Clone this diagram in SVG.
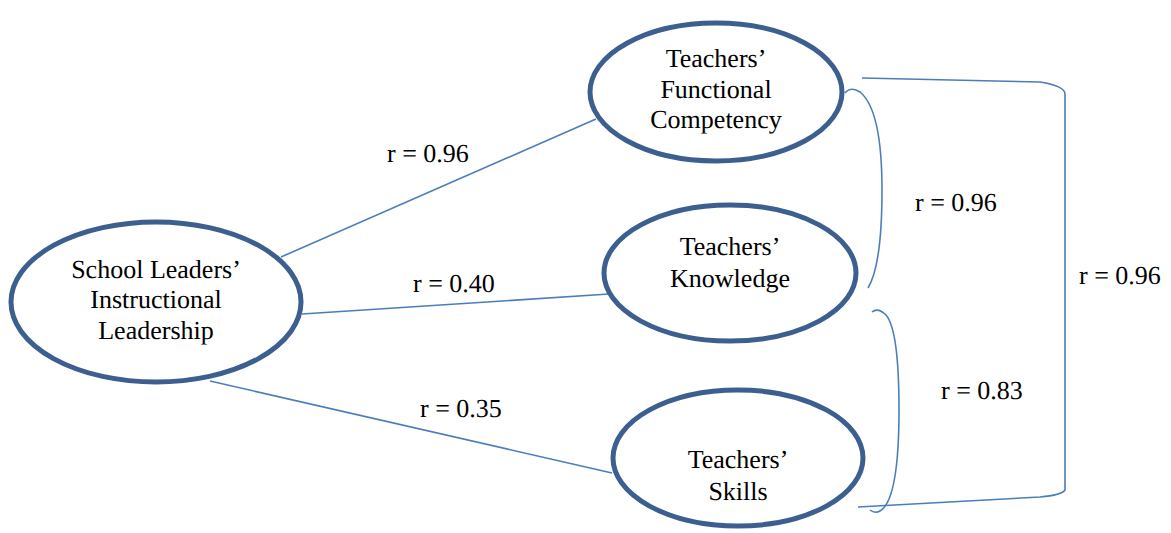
<svg xmlns="http://www.w3.org/2000/svg" width="1171" height="533" viewBox="0 0 1171 533" font-family="Liberation Serif, 'Times New Roman', serif" font-size="26">
<style>
.node{fill:#fff;stroke:#3c5f8f;stroke-width:5}
.t{fill:#000;text-anchor:middle;text-rendering:geometricPrecision}
.l{fill:#000;text-rendering:geometricPrecision}
.c{fill:none;stroke:#4a7ebb;stroke-width:1.6}
</style>
<rect width="1171" height="533" fill="#fff"/>
<g id="connectors">
<line class="c" x1="281" y1="257" x2="596" y2="119"/>
<line class="c" x1="302" y1="314" x2="609" y2="294"/>
<line class="c" x1="210" y1="381" x2="612" y2="473"/>
<path class="c" d="M862,78 L1040,82 Q1065,86 1065,94 L1065,490 Q1062,495 1040,497 L858,507"/>
<path class="c" d="M845,93 Q851,86 860,92 Q882,110 882,190 Q882,265 868,288"/>
<path class="c" d="M872,312 Q878,307 886,315 Q899,330 899,410 Q899,500 880,511 Q875,514 870,510"/>
<text class="l" x="387" y="162">r = 0.96</text>
<text class="l" x="413" y="292">r = 0.40</text>
<text class="l" x="420" y="417">r = 0.35</text>
<text class="l" x="915" y="211">r = 0.96</text>
<text class="l" x="1079" y="284">r = 0.96</text>
<text class="l" x="941" y="399">r = 0.83</text>
</g>
<g id="leader">
<ellipse class="node" cx="156" cy="302" rx="145" ry="80"/>
<text class="t" x="156" y="278">School Leaders’</text>
<text class="t" x="156" y="308">Instructional</text>
<text class="t" x="156" y="339">Leadership</text>
</g>
<g id="functional">
<ellipse class="node" cx="716" cy="92" rx="126" ry="69"/>
<text class="t" x="716" y="67">Teachers’</text>
<text class="t" x="716" y="98">Functional</text>
<text class="t" x="716" y="128">Competency</text>
</g>
<g id="knowledge">
<ellipse class="node" cx="730" cy="273" rx="126" ry="68"/>
<text class="t" x="730" y="255">Teachers’</text>
<text class="t" x="730" y="287">Knowledge</text>
</g>
<g id="skills">
<ellipse class="node" cx="738" cy="458" rx="125" ry="68"/>
<text class="t" x="738" y="468">Teachers’</text>
<text class="t" x="738" y="500">Skills</text>
</g>
</svg>
